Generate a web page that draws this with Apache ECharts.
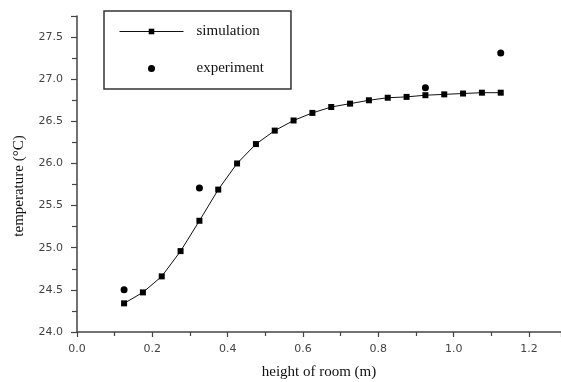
<!DOCTYPE html>
<html>
<head>
<meta charset="utf-8">
<script src="https://cdn.jsdelivr.net/npm/echarts@6/dist/echarts.min.js"></script>
<style>html,body{margin:0;padding:0;background:#fff}#c{width:561px;height:382px}</style>
</head>
<body>
<div id="c"></div>
<script>
const simHeight = [0.125,0.175,0.225,0.275,0.325,0.375,0.425,0.475,0.525,0.575,0.625,0.675,0.725,0.775,0.825,0.875,0.925,0.975,1.025,1.075,1.125];
const simTemp   = [24.34,24.47,24.66,24.96,25.32,25.69,26.00,26.23,26.39,26.51,26.60,26.67,26.71,26.75,26.78,26.79,26.81,26.82,26.83,26.84,26.84];
const expHeight = [0.125,0.325,0.925,1.125];
const expTemp   = [24.5,25.71,26.9,27.31];
const xTicks = ['0.0','0.2','0.4','0.6','0.8','1.0','1.2'];
const yTicks = ['24.0','24.5','25.0','25.5','26.0','26.5','27.0','27.5'];

const axisColor = '#444';
const chart = echarts.init(document.getElementById('c'), null, {renderer:'canvas'});
const tickFmtX = v => { const s = v.toFixed(1); return xTicks.includes(s) && Math.abs(v*5 - Math.round(v*5))<1e-6 ? s : ''; };
const tickFmtY = v => { const s = v.toFixed(1); return yTicks.includes(s) && Math.abs(v*2 - Math.round(v*2))<1e-6 ? s : ''; };

chart.setOption({
  animation:false,
  backgroundColor:'#fff',
  grid:{left:77, top:16, right:0, bottom:50, containLabel:false, outerBoundsMode:'none'},
  legend:{
    left:104, top:11, orient:'vertical',
    padding:[13,27,13,15],
    itemWidth:64, itemHeight:7, itemGap:22,
    borderColor:'#333', borderWidth:1.5,
    lineStyle:{width:1},
    textStyle:{fontFamily:'Liberation Serif', fontSize:15, color:'#111', padding:[0,0,0,8]},
    data:['simulation','experiment']
  },
  xAxis:{
    type:'value', min:0, max:1.285, interval:0.2,
    name:'height of room (m)', nameLocation:'middle', nameGap:33,
    nameTextStyle:{fontFamily:'Liberation Serif', fontSize:15, color:'#111'},
    axisLine:{show:true, onZero:false, lineStyle:{color:axisColor, width:1.5}},
    axisTick:{show:true, inside:false, length:5, lineStyle:{color:axisColor, width:1.2}},
    minorTick:{show:true, splitNumber:2, length:4, lineStyle:{color:axisColor, width:1.2}},
    splitLine:{show:false},
    axisLabel:{margin:12, fontFamily:'DejaVu Sans', fontSize:11, color:'#444', formatter:tickFmtX, showMaxLabel:false}
  },
  yAxis:{
    type:'value', min:24, max:27.75, interval:0.5,
    name:'temperature (°C)', nameLocation:'middle', nameGap:50, nameRotate:90,
    nameTextStyle:{fontFamily:'Liberation Serif', fontSize:15, color:'#111', padding:[0,24,0,0]},
    axisLine:{show:true, onZero:false, lineStyle:{color:axisColor, width:1.5}},
    axisTick:{show:true, inside:false, length:6, lineStyle:{color:axisColor, width:1.2}},
    minorTick:{show:true, splitNumber:2, length:5, lineStyle:{color:axisColor, width:1.2}},
    splitLine:{show:false},
    axisLabel:{margin:14, fontFamily:'DejaVu Sans', fontSize:11, color:'#444', formatter:tickFmtY, showMaxLabel:false}
  },
  series:[
    {
      name:'simulation', type:'line',
      data: simHeight.map((x,i)=>[x, simTemp[i]]),
      symbol:'rect', symbolSize:6, showSymbol:true,
      lineStyle:{color:'#111', width:1},
      itemStyle:{color:'#000'}
    },
    {
      name:'experiment', type:'scatter',
      data: expHeight.map((x,i)=>[x, expTemp[i]]),
      symbol:'circle', symbolSize:7,
      itemStyle:{color:'#000', opacity:1}
    }
  ]
});
</script>
</body>
</html>
